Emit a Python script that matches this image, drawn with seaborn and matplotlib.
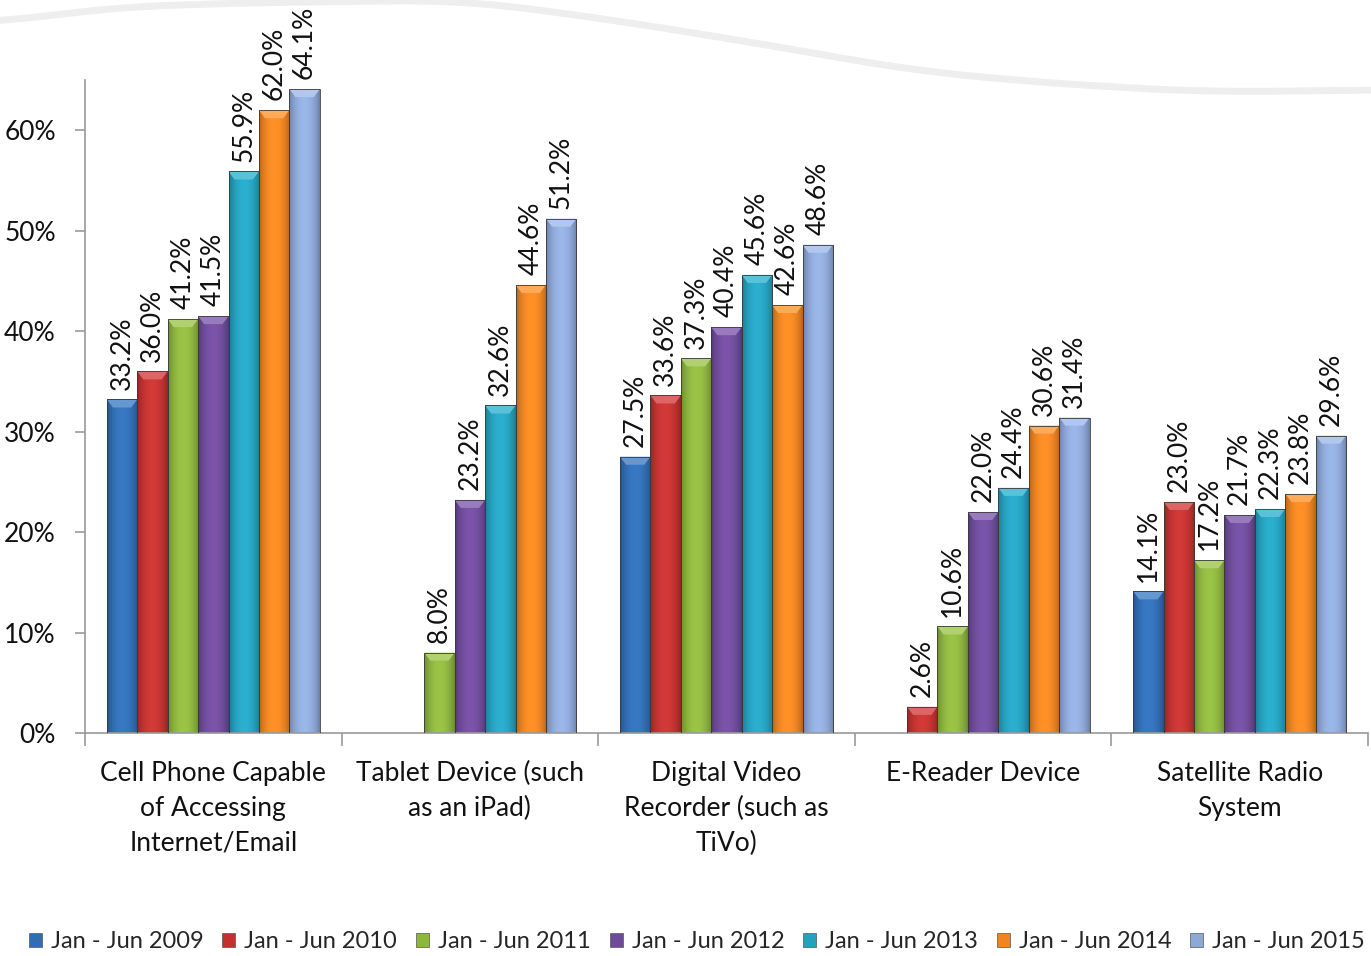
import numpy as np
import pandas as pd
import matplotlib
matplotlib.use("Agg")
import matplotlib.pyplot as plt
import matplotlib.colors as mcolors
from matplotlib.patches import Polygon, Patch
import seaborn as sns

categories = [
    "Cell Phone Capable\nof Accessing\nInternet/Email",
    "Tablet Device (such\nas an iPad)",
    "Digital Video\nRecorder (such as\nTiVo)",
    "E-Reader Device",
    "Satellite Radio\nSystem",
]
periods = ["Jan - Jun 2009", "Jan - Jun 2010", "Jan - Jun 2011", "Jan - Jun 2012",
           "Jan - Jun 2013", "Jan - Jun 2014", "Jan - Jun 2015"]
values_2009 = [33.2, np.nan, 27.5, np.nan, 14.1]
values_2010 = [36.0, np.nan, 33.6, 2.6, 23.0]
values_2011 = [41.2, 8.0, 37.3, 10.6, 17.2]
values_2012 = [41.5, 23.2, 40.4, 22.0, 21.7]
values_2013 = [55.9, 32.6, 45.6, 24.4, 22.3]
values_2014 = [62.0, 44.6, 42.6, 30.6, 23.8]
values_2015 = [64.1, 51.2, 48.6, 31.4, 29.6]
colors = ["#2F6DB5", "#C3302E", "#8DB63C", "#6E4A9B", "#22A2BF", "#F0841F", "#8DA9DA"]
yticks = [0, 10, 20, 30, 40, 50, 60]

series = [values_2009, values_2010, values_2011, values_2012,
          values_2013, values_2014, values_2015]
rows = []
for period, vals in zip(periods, series):
    for cat, v in zip(categories, vals):
        rows.append({"category": cat, "period": period, "value": v})
df = pd.DataFrame(rows)

sns.set_theme(style="white")
plt.rcParams["font.family"] = ["Lato", "DejaVu Sans"]

W, H = 1371, 956
fig = plt.figure(figsize=(W / 100, H / 100), dpi=100)
fig.patch.set_facecolor("white")

# faint decorative swoosh across the top of the slide
bg = fig.add_axes([0, 0, 1, 1], zorder=-5)
bg.set_xlim(0, W)
bg.set_ylim(H, 0)
bg.axis("off")
knots_x = np.array([0, 100, 233, 460, 600, 750, 910, 1010, 1110, 1210, 1371])
knots_y = np.array([23, 8, 3, 0, 18, 42, 70, 80, 87, 92, 90])
sx = np.linspace(0, W, 400)
sy = np.interp(sx, knots_x, knots_y)
sy = np.convolve(np.pad(sy, 20, mode="edge"), np.ones(41) / 41, mode="valid")
bg.plot(sx, sy, color="#EEEEEE", lw=5, solid_capstyle="round")

ax = fig.add_axes([0.062, 0.2333, 0.9358, 0.683])
ax.set_facecolor("none")
sns.barplot(data=df, x="category", y="value", hue="period", order=categories,
            hue_order=periods, palette=colors, width=0.83, saturation=1,
            edgecolor="#3A3A3A", linewidth=0.6, ax=ax, legend=False)


def shaded(base, n=64):
    """Horizontal cylinder-like shading for one bar colour."""
    rgb = np.array(mcolors.to_rgb(base))
    t = np.linspace(0, 1, n)
    g = np.sin(np.pi * t) ** 0.7
    img = rgb[None, :] * (0.74 + 0.3 * g[:, None]) + 0.03 * g[:, None]
    return np.clip(img, 0, 1)[None, :, :]


for container, base in zip(ax.containers, colors):
    grad = shaded(base)
    light = np.clip(np.array(mcolors.to_rgb(base)) * 0.8 + 0.25, 0, 1)
    for rect in container.patches:
        h = rect.get_height()
        if not np.isfinite(h) or h <= 0:
            continue
        x0, w = rect.get_x(), rect.get_width()
        im = ax.imshow(grad, extent=[x0, x0 + w, 0, h], aspect="auto",
                       interpolation="bilinear", zorder=2.5)
        im.set_clip_path(rect)
        dh = min(0.8, h * 0.5)
        ax.add_patch(Polygon([(x0, h), (x0 + w, h), (x0 + w * 0.8, h - dh),
                              (x0 + w * 0.2, h - dh)], closed=True,
                             facecolor=light, edgecolor="none", zorder=2.6))
        rect.set_facecolor("none")
        rect.set_zorder(3)

for container in ax.containers:
    labels = ["" if np.isnan(v) else f"{v:.1f}%" for v in container.datavalues]
    ax.bar_label(container, labels=labels, rotation=90, padding=7,
                 fontsize=19, color="#111111")

ax.set_xlim(-0.5, len(categories) - 0.5)
ax.set_ylim(0, 65)
ax.set_yticks(yticks)
ax.set_yticklabels([f"{t}%" for t in yticks], fontsize=19, color="#111111")
ax.set_xticks(range(len(categories)))
ax.set_xticklabels(categories, fontsize=19, color="#111111", linespacing=1.5)
ax.set_xticks(np.arange(-0.5, len(categories)), minor=True)
ax.tick_params(axis="x", which="major", length=0, pad=20)
ax.tick_params(axis="x", which="minor", length=9, width=1.2, color="#999999", direction="out")
ax.tick_params(axis="y", length=7, width=1.2, color="#999999", direction="out", pad=14)
ax.tick_params(axis="both", which="both", bottom=True, left=True)
ax.set_xlabel("")
ax.set_ylabel("")
for side in ["top", "right"]:
    ax.spines[side].set_visible(False)
for side in ["left", "bottom"]:
    ax.spines[side].set_color("#999999")
    ax.spines[side].set_linewidth(1.2)

handles = [Patch(facecolor=c, edgecolor="#555555", linewidth=0.5) for c in colors]
fig.legend(handles, periods, loc="center left", bbox_to_anchor=(0.021, 0.015),
           ncol=7, frameon=False, fontsize=17, handlelength=0.55, handleheight=0.55,
           handletextpad=0.38, columnspacing=0.8, borderaxespad=0, borderpad=0)

fig.savefig("out.png", dpi=100)
